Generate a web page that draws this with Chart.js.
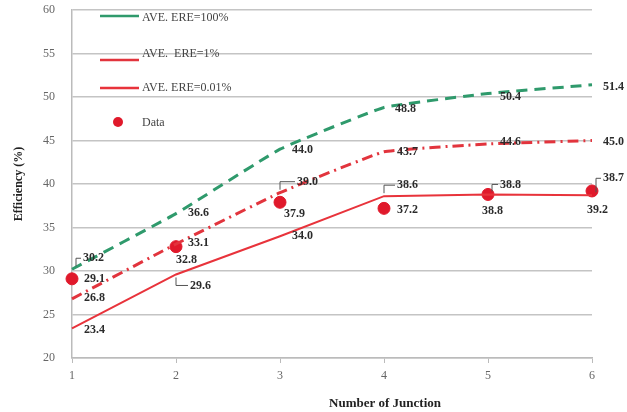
<!DOCTYPE html>
<html>
<head>
<meta charset="utf-8">
<script src="https://cdn.jsdelivr.net/npm/chart.js@4.4.1/dist/chart.umd.min.js"></script>
<style>
  html, body { margin: 0; padding: 0; background: #fff; }
  #wrap { width: 627px; height: 412px; position: relative; }
</style>
</head>
<body>
<div id="wrap"><canvas id="effChart"></canvas></div>
<script>
// junction counts and efficiencies
const junctions = ['1', '2', '3', '4', '5', '6'];
const ere100 = [30.2, 36.6, 44.0, 48.8, 50.4, 51.4];
const ere1 = [26.8, 33.1, 39.0, 43.7, 44.6, 45.0];
const ere001 = [23.4, 29.6, 34.0, 38.6, 38.8, 38.7];
const measured = [29.1, 32.8, 37.9, 37.2, 38.8, 39.2];
const yTicks = [20, 25, 30, 35, 40, 45, 50, 55, 60];

// where each value label sits relative to its point: [dx, dy, leader line?]
const labelPos = [
    [[11, -11, 1], [12, -1, 0], [12, 1, 0], [11, 1, 0], [12, 3, 0], [11, 2, 0]],
    [[12, -1, 0], [12, -1, 0], [17, -11, 1], [13, 0, 0], [12, -2, 0], [11, 1, 0]],
    [[12, 1, 0], [14, 11, 1], [12, 0, 0], [13, -11, 1], [12, -10, 1], [11, -17, 1]],
    [[12, 0, 0], [0, 13, 0], [4, 12, 0], [13, 2, 0], [-6, 16, 0], [-5, 19, 0]]
];

const serif = "'Liberation Serif', 'DejaVu Serif', serif";

const valueLabels = {
    id: 'valueLabels',
    afterDatasetsDraw(chart) {
        const ctx = chart.ctx;
        ctx.save();
        ctx.font = 'bold 12px ' + serif;
        ctx.textBaseline = 'middle';
        ctx.textAlign = 'left';
        chart.data.datasets.forEach((ds, i) => {
            const meta = chart.getDatasetMeta(i);
            meta.data.forEach((pt, j) => {
                const [dx, dy, lead] = labelPos[i][j];
                const lx = pt.x + dx, ly = pt.y + dy;
                if (lead) {
                    ctx.strokeStyle = '#555';
                    ctx.lineWidth = 1;
                    ctx.beginPath();
                    const sx = pt.x + (dx > 12 ? 0 : 4);
                    ctx.moveTo(sx, pt.y + (dy > 0 ? 3 : -3));
                    ctx.lineTo(sx, ly);
                    ctx.lineTo(lx - 2, ly);
                    ctx.stroke();
                }
                ctx.fillStyle = '#2b2b2b';
                ctx.fillText(ds.data[j].toFixed(1), lx, ly);
            });
        });
        ctx.restore();
    },
    afterDraw(chart) {
        const ctx = chart.ctx;
        ctx.save();
        // legend inside the plot, top-left
        const rows = [
            { y: 16, ty: 18, ds: 0 },
            { y: 60, ty: 54, ds: 1 },
            { y: 88, ty: 88, ds: 2 },
            { y: 122, ty: 123, ds: 3 }
        ];
        ctx.font = '12px ' + serif;
        ctx.textBaseline = 'middle';
        rows.forEach(r => {
            const ds = chart.data.datasets[r.ds];
            if (r.ds < 3) {
                ctx.strokeStyle = ds.borderColor;
                ctx.lineWidth = 2.5;
                ctx.beginPath();
                ctx.moveTo(100, r.y);
                ctx.lineTo(139, r.y);
                ctx.stroke();
            } else {
                ctx.fillStyle = ds.pointBackgroundColor;
                ctx.beginPath();
                ctx.arc(118, r.y, 5, 0, Math.PI * 2);
                ctx.fill();
            }
            ctx.fillStyle = '#444';
            ctx.fillText(ds.label, 142, r.ty);
        });
        // x axis title
        ctx.font = 'bold 13px ' + serif;
        ctx.fillStyle = '#222';
        ctx.textAlign = 'center';
        ctx.fillText('Number of Junction', 385, 404);
        ctx.restore();
    }
};

const ctx = document.getElementById('effChart').getContext('2d');
new Chart(ctx, {
    type: 'line',
    data: {
        labels: junctions,
        datasets: [
            {
                label: 'AVE. ERE=100%',
                data: ere100,
                borderColor: '#2f9a6c',
                borderWidth: 3,
                borderDash: [11, 7],
                pointRadius: 0,
                tension: 0.1
            },
            {
                label: 'AVE.  ERE=1%',
                data: ere1,
                borderColor: '#e2343d',
                borderWidth: 3,
                borderDash: [11, 5, 2, 5],
                pointRadius: 0,
                tension: 0.1
            },
            {
                label: 'AVE. ERE=0.01%',
                data: ere001,
                borderColor: '#e8333b',
                borderWidth: 2,
                pointRadius: 0,
                tension: 0
            },
            {
                label: 'Data',
                data: measured,
                showLine: false,
                pointRadius: 6,
                pointHoverRadius: 6,
                pointBackgroundColor: '#e0192b',
                pointBorderColor: '#e0192b',
                borderColor: '#e0192b'
            }
        ]
    },
    options: {
        responsive: true,
        maintainAspectRatio: false,
        animation: false,
        layout: { padding: { top: 10, right: 35, bottom: 0, left: 10 } },
        scales: {
            x: {
                offset: false,
                grid: { drawOnChartArea: false, color: '#bbb', tickLength: 5 },
                border: { color: '#bbb', width: 1.5 },
                ticks: { color: '#666', font: { family: serif, size: 12 }, padding: 6 },
                afterFit: s => { s.height = 54; s.paddingLeft = 0; s.paddingRight = 0; }
            },
            y: {
                min: 20,
                max: 60,
                afterBuildTicks: s => { s.ticks = yTicks.map(v => ({ value: v })); },
                grid: { color: '#c4c4c4', lineWidth: 1.5, drawTicks: false },
                border: { color: '#bbb', width: 1.5 },
                ticks: { color: '#666', font: { family: serif, size: 12 }, padding: 17 },
                title: {
                    display: true,
                    text: 'Efficiency (%)',
                    color: '#222',
                    font: { family: serif, size: 12, weight: 'bold' },
                    padding: { top: 2, bottom: 0 }
                },
                afterFit: s => { s.width = 62; s.paddingTop = 0; s.paddingBottom = 0; }
            }
        },
        plugins: {
            legend: { display: false },
            tooltip: { enabled: false }
        }
    },
    plugins: [valueLabels]
});
</script>
</body>
</html>
